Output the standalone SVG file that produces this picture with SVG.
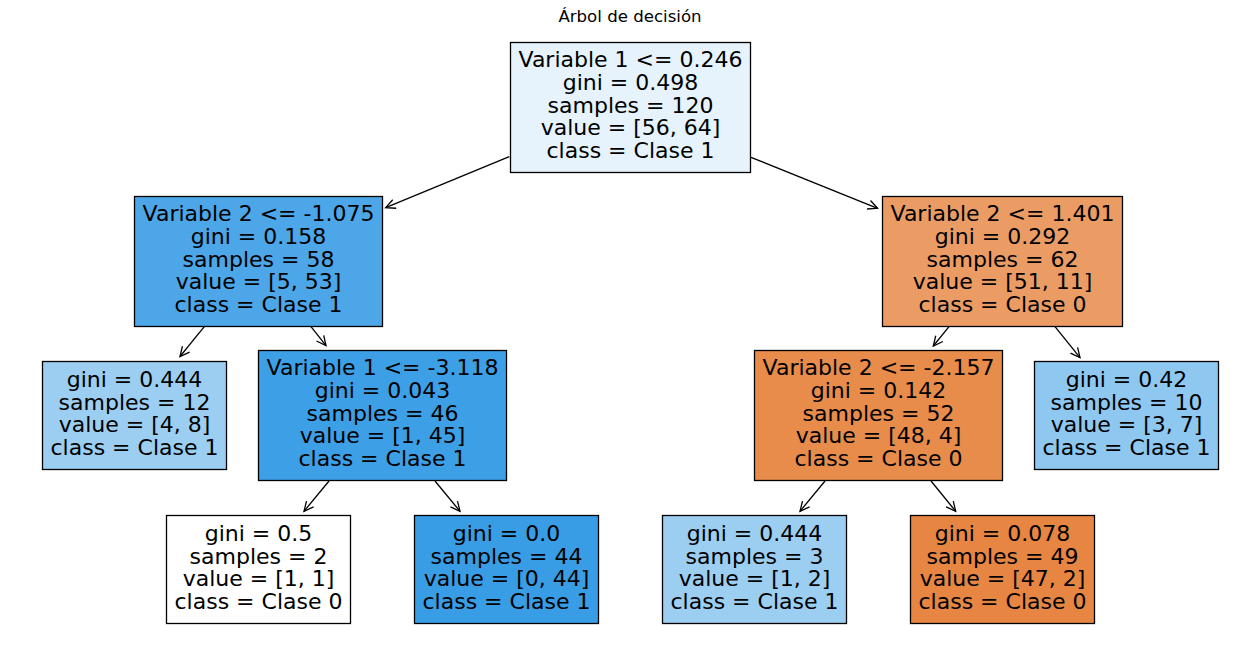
<svg xmlns="http://www.w3.org/2000/svg" width="1260" height="656" viewBox="0 0 1260 656">
<defs>
<marker id="ah" markerUnits="userSpaceOnUse" markerWidth="14" markerHeight="14" viewBox="-12 -7 14 14" refX="0" refY="0" orient="auto">
<path d="M-9.5,-4.6 L0,0 L-9.5,4.6" fill="none" stroke="#000" stroke-width="1.3"/>
</marker>
<style>
.box{stroke:#000;stroke-width:1.3}
.t{font-family:"DejaVu Sans",sans-serif;font-size:22px;fill:#000;text-anchor:middle}
.title{font-family:"DejaVu Sans",sans-serif;font-size:16.6px;fill:#000;text-anchor:middle}
.edge{stroke:#000;stroke-width:1.3;fill:none;marker-end:url(#ah)}
</style>
</defs>
<rect width="1260" height="656" fill="#fff"/>
<text class="title" x="630" y="22">Árbol de decisión</text>
<g id="connectors">
<line class="edge" x1="509.3" y1="156.7" x2="385.7" y2="207.6"/>
<line class="edge" x1="751" y1="157.3" x2="877.6" y2="208.3"/>
<line class="edge" x1="204.3" y1="326.7" x2="180" y2="356.5"/>
<line class="edge" x1="311" y1="326.7" x2="326" y2="345.6"/>
<line class="edge" x1="949" y1="326.7" x2="933.3" y2="346"/>
<line class="edge" x1="1055" y1="326.7" x2="1080" y2="357.6"/>
<line class="edge" x1="329" y1="481" x2="304" y2="511.3"/>
<line class="edge" x1="435" y1="481" x2="460" y2="511.3"/>
<line class="edge" x1="825" y1="481" x2="800" y2="511.3"/>
<line class="edge" x1="931" y1="481" x2="955.7" y2="511.3"/>
</g>
<g id="node0">
<rect class="box" x="510.5" y="42.5" width="240" height="130" fill="#e6f3fc"/>
<text class="t" x="630.5" y="66.7">Variable 1 &lt;= 0.246</text>
<text class="t" x="630.5" y="89.6">gini = 0.498</text>
<text class="t" x="630.5" y="112.5">samples = 120</text>
<text class="t" x="630.5" y="135.4">value = [56, 64]</text>
<text class="t" x="630.5" y="158.3">class = Clase 1</text>
</g>
<g id="node1">
<rect class="box" x="134.5" y="196.5" width="248" height="130" fill="#4ca6e7"/>
<text class="t" x="258.5" y="220.7">Variable 2 &lt;= -1.075</text>
<text class="t" x="258.5" y="243.6">gini = 0.158</text>
<text class="t" x="258.5" y="266.5">samples = 58</text>
<text class="t" x="258.5" y="289.4">value = [5, 53]</text>
<text class="t" x="258.5" y="312.3">class = Clase 1</text>
</g>
<g id="node2">
<rect class="box" x="882.5" y="196.5" width="240" height="130" fill="#eb9c64"/>
<text class="t" x="1002.5" y="220.7">Variable 2 &lt;= 1.401</text>
<text class="t" x="1002.5" y="243.6">gini = 0.292</text>
<text class="t" x="1002.5" y="266.5">samples = 62</text>
<text class="t" x="1002.5" y="289.4">value = [51, 11]</text>
<text class="t" x="1002.5" y="312.3">class = Clase 0</text>
</g>
<g id="node3">
<rect class="box" x="42.5" y="361.5" width="184" height="108" fill="#9ccef2"/>
<text class="t" x="134.5" y="386.6">gini = 0.444</text>
<text class="t" x="134.5" y="409.5">samples = 12</text>
<text class="t" x="134.5" y="432.4">value = [4, 8]</text>
<text class="t" x="134.5" y="455.3">class = Clase 1</text>
</g>
<g id="node4">
<rect class="box" x="258.5" y="350.5" width="248" height="130" fill="#3d9fe6"/>
<text class="t" x="382.5" y="374.7">Variable 1 &lt;= -3.118</text>
<text class="t" x="382.5" y="397.6">gini = 0.043</text>
<text class="t" x="382.5" y="420.5">samples = 46</text>
<text class="t" x="382.5" y="443.4">value = [1, 45]</text>
<text class="t" x="382.5" y="466.3">class = Clase 1</text>
</g>
<g id="node5">
<rect class="box" x="754.5" y="350.5" width="248" height="130" fill="#e78c4a"/>
<text class="t" x="878.5" y="374.7">Variable 2 &lt;= -2.157</text>
<text class="t" x="878.5" y="397.6">gini = 0.142</text>
<text class="t" x="878.5" y="420.5">samples = 52</text>
<text class="t" x="878.5" y="443.4">value = [48, 4]</text>
<text class="t" x="878.5" y="466.3">class = Clase 0</text>
</g>
<g id="node6">
<rect class="box" x="1034.5" y="361.5" width="184" height="108" fill="#8ec7f0"/>
<text class="t" x="1126.5" y="386.6">gini = 0.42</text>
<text class="t" x="1126.5" y="409.5">samples = 10</text>
<text class="t" x="1126.5" y="432.4">value = [3, 7]</text>
<text class="t" x="1126.5" y="455.3">class = Clase 1</text>
</g>
<g id="node7">
<rect class="box" x="166.5" y="515.5" width="184" height="108" fill="#ffffff"/>
<text class="t" x="258.5" y="540.6">gini = 0.5</text>
<text class="t" x="258.5" y="563.5">samples = 2</text>
<text class="t" x="258.5" y="586.4">value = [1, 1]</text>
<text class="t" x="258.5" y="609.3">class = Clase 0</text>
</g>
<g id="node8">
<rect class="box" x="414.5" y="515.5" width="184" height="108" fill="#399de5"/>
<text class="t" x="506.5" y="540.6">gini = 0.0</text>
<text class="t" x="506.5" y="563.5">samples = 44</text>
<text class="t" x="506.5" y="586.4">value = [0, 44]</text>
<text class="t" x="506.5" y="609.3">class = Clase 1</text>
</g>
<g id="node9">
<rect class="box" x="662.5" y="515.5" width="184" height="108" fill="#9ccef2"/>
<text class="t" x="754.5" y="540.6">gini = 0.444</text>
<text class="t" x="754.5" y="563.5">samples = 3</text>
<text class="t" x="754.5" y="586.4">value = [1, 2]</text>
<text class="t" x="754.5" y="609.3">class = Clase 1</text>
</g>
<g id="node10">
<rect class="box" x="910.5" y="515.5" width="184" height="108" fill="#e68642"/>
<text class="t" x="1002.5" y="540.6">gini = 0.078</text>
<text class="t" x="1002.5" y="563.5">samples = 49</text>
<text class="t" x="1002.5" y="586.4">value = [47, 2]</text>
<text class="t" x="1002.5" y="609.3">class = Clase 0</text>
</g>
</svg>
